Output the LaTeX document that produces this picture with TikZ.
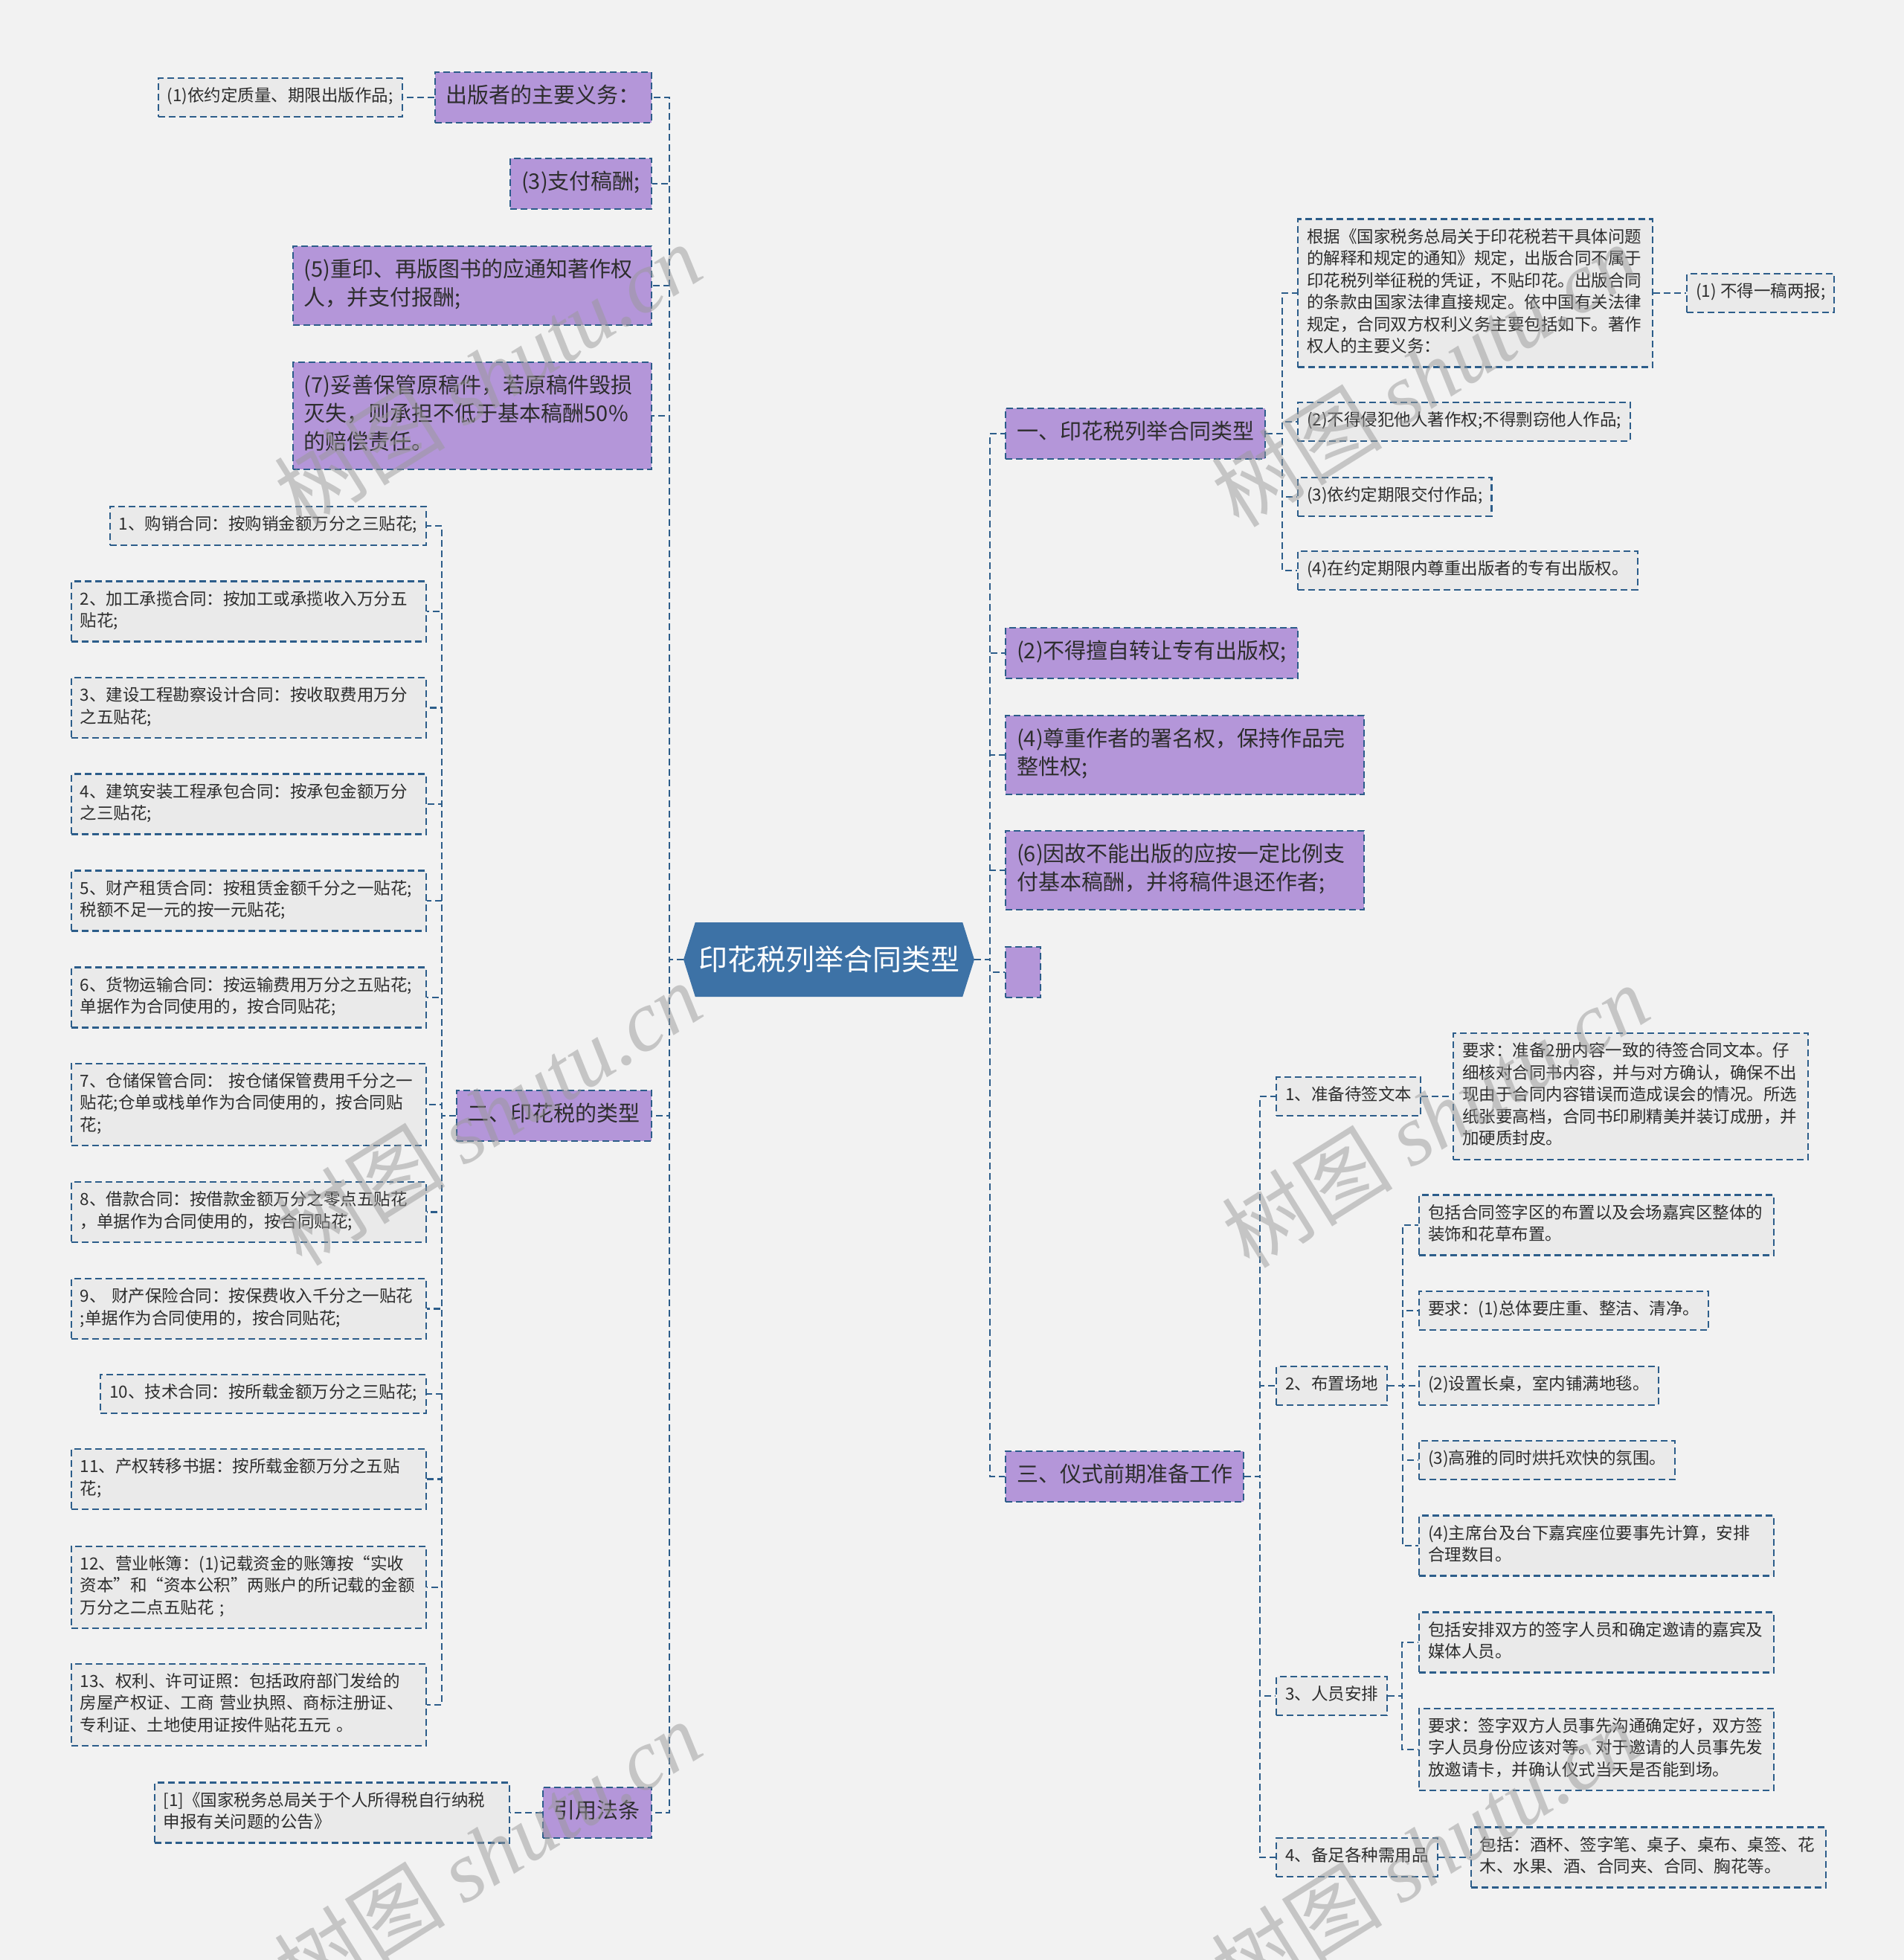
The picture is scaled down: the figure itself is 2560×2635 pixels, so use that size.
\documentclass[tikz,border=0pt]{standalone}
\usepackage{fontspec}
\setmainfont{Noto Sans CJK SC}
\newfontfamily\wmserif{Liberation Serif}
\definecolor{linkblue}{RGB}{44, 93, 138}
\definecolor{hubblue}{RGB}{61, 114, 166}
\definecolor{branchpurple}{RGB}{180, 150, 217}
\definecolor{leafgray}{RGB}{234, 234, 234}
\definecolor{paper}{RGB}{242, 242, 242}
\definecolor{ink}{RGB}{45, 45, 45}
\definecolor{wmgray}{RGB}{153, 153, 153}
\usetikzlibrary{positioning, shapes.symbols}
\newcommand{\hubfont}{\fontsize{39}{47}\selectfont}
\newcommand{\branchfont}{\fontsize{29}{38}\selectfont}
\newcommand{\leaffont}{\fontsize{22.5}{29.5}\selectfont}
\tikzset{
	hub/.style={signal, signal to=west and east, signal pointer angle=145, fill=hubblue, text=white, minimum width=391pt, minimum height=100pt, inner sep=0pt, font=\hubfont},
	branch/.style={rectangle, draw=linkblue, fill=branchpurple, dash pattern=on 9pt off 5pt, line width=2.2pt, inner xsep=15pt, inner ysep=15pt, align=left, text=ink, font=\branchfont, execute at begin node=\strut, execute at end node=\strut},
	widebranch/.style={branch, text width=452pt},
	leaf/.style={rectangle, draw=linkblue, fill=leafgray, dash pattern=on 9pt off 5pt, line width=2.2pt, inner xsep=12pt, inner ysep=11pt, align=left, text=ink, font=\leaffont, execute at begin node=\strut, execute at end node=\strut},
	wideleaf/.style={leaf, text width=453pt},
	link/.style={draw=linkblue, dash pattern=on 9pt off 5pt, line width=2.2pt},
	watermark/.style={rotate=32, text=wmgray, text opacity=0.5, font=\fontsize{115}{115}\selectfont},
}
\begin{document}
\begin{tikzpicture}[x=1pt, y=-1pt]
	\useasboundingbox (0,0) rectangle (2560,2635);
	\fill[paper] (0,0) rectangle (2560,2635);
	% centre
	\node[hub] (hub) at (1114.5,1290) {印花税列举合同类型};
	\coordinate (lefttrunk) at (900,1290);
	\coordinate (righttrunk) at (1331,1290);
	% left side
	\node[branch, anchor=east] (duty) at (877,131) {出版者的主要义务：};
	\node[leaf, left=42pt of duty] (duty1) {(1)依约定质量、期限出版作品;};
	\node[branch, anchor=east] (pay) at (877,247) {(3)支付稿酬;};
	\node[widebranch, anchor=east] (reprint) at (877,384) {(5)重印、再版图书的应通知著作权\\人，并支付报酬;};
	\node[widebranch, anchor=east] (keep) at (877,559) {(7)妥善保管原稿件，若原稿件毁损\\灭失，则承担不低于基本稿酬50\%\\的赔偿责任。};
	\node[branch, anchor=east] (types) at (877,1500) {二、印花税的类型};
	\coordinate (typestrunk) at (594,1500);
	\node[branch, anchor=east] (law) at (877,2437) {引用法条};
	\node[wideleaf, left=43pt of law] (lawref) {[1]《国家税务总局关于个人所得税自行纳税\\申报有关问题的公告》};
	% tax types
	\node[leaf, anchor=east] (tsale) at (574,707) {1、购销合同：按购销金额万分之三贴花;};
	\node[wideleaf, anchor=east] (tprocess) at (574,822) {2、加工承揽合同：按加工或承揽收入万分五\\贴花;};
	\node[wideleaf, anchor=east] (tsurvey) at (574,951.5) {3、建设工程勘察设计合同：按收取费用万分\\之五贴花;};
	\node[wideleaf, anchor=east] (tbuild) at (574,1081) {4、建筑安装工程承包合同：按承包金额万分\\之三贴花;};
	\node[wideleaf, anchor=east] (tlease) at (574,1211) {5、财产租赁合同：按租赁金额千分之一贴花;\\税额不足一元的按一元贴花;};
	\node[wideleaf, anchor=east] (tfreight) at (574,1341) {6、货物运输合同：按运输费用万分之五贴花;\\单据作为合同使用的，按合同贴花;};
	\node[wideleaf, anchor=east] (tstore) at (574,1485) {7、仓储保管合同： 按仓储保管费用千分之一\\贴花;仓单或栈单作为合同使用的，按合同贴\\花;};
	\node[wideleaf, anchor=east] (tloan) at (574,1629.5) {8、借款合同：按借款金额万分之零点五贴花\\，单据作为合同使用的，按合同贴花;};
	\node[wideleaf, anchor=east] (tinsure) at (574,1759.5) {9、 财产保险合同：按保费收入千分之一贴花\\;单据作为合同使用的，按合同贴花;};
	\node[leaf, anchor=east] (ttech) at (574,1874) {10、技术合同：按所载金额万分之三贴花;};
	\node[wideleaf, anchor=east] (ttransfer) at (574,1988.5) {11、产权转移书据：按所载金额万分之五贴\\花;};
	\node[wideleaf, anchor=east] (tbooks) at (574,2134) {12、营业帐簿：(1)记载资金的账簿按“实收\\资本”和“资本公积”两账户的所记载的金额\\万分之二点五贴花 ;};
	\node[wideleaf, anchor=east] (tlicence) at (574,2292) {13、权利、许可证照：包括政府部门发给的\\房屋产权证、工商 营业执照、商标注册证、\\专利证、土地使用证按件贴花五元 。};
	% right side
	\node[branch, anchor=west] (listing) at (1351,583) {一、印花税列举合同类型};
	\coordinate (listtrunk) at (1724,583);
	\node[wideleaf, anchor=west] (basis) at (1744,394) {根据《国家税务总局关于印花税若干具体问题\\的解释和规定的通知》规定，出版合同不属于\\印花税列举征税的凭证，不贴印花。出版合同\\的条款由国家法律直接规定。依中国有关法律\\规定，合同双方权利义务主要包括如下。著作\\权人的主要义务：};
	\node[leaf, right=44pt of basis] (nodouble) {(1) 不得一稿两报;};
	\node[leaf, anchor=west] (infringe) at (1744,567) {(2)不得侵犯他人著作权;不得剽窃他人作品;};
	\node[leaf, anchor=west] (deliver) at (1744,668) {(3)依约定期限交付作品;};
	\node[leaf, anchor=west] (respect) at (1744,767) {(4)在约定期限内尊重出版者的专有出版权。};
	\node[branch, anchor=west] (notransfer) at (1351,878) {(2)不得擅自转让专有出版权;};
	\node[widebranch, anchor=west] (credit) at (1351,1015) {(4)尊重作者的署名权，保持作品完\\整性权;};
	\node[widebranch, anchor=west] (refund) at (1351,1170) {(6)因故不能出版的应按一定比例支\\付基本稿酬，并将稿件退还作者;};
	\node[branch, anchor=west, minimum width=47pt] (blank) at (1351,1307) {};
	\node[branch, anchor=west] (prep) at (1351,1985) {三、仪式前期准备工作};
	\coordinate (preptrunk) at (1694,1985);
	% ceremony preparation
	\node[leaf, anchor=west] (docs) at (1715,1474) {1、准备待签文本};
	\node[wideleaf, right=42pt of docs] (docsreq) {要求：准备2册内容一致的待签合同文本。仔\\细核对合同书内容，并与对方确认，确保不出\\现由于合同内容错误而造成误会的情况。所选\\纸张要高档，合同书印刷精美并装订成册，并\\加硬质封皮。};
	\node[leaf, anchor=west] (venue) at (1715,1863) {2、布置场地};
	\coordinate (venuetrunk) at (1886,1863);
	\node[wideleaf, anchor=west] (venue1) at (1907,1647) {包括合同签字区的布置以及会场嘉宾区整体的\\装饰和花草布置。};
	\node[leaf, anchor=west] (venue2) at (1907,1762) {要求：(1)总体要庄重、整洁、清净。};
	\node[leaf, anchor=west] (venue3) at (1907,1863) {(2)设置长桌，室内铺满地毯。};
	\node[leaf, anchor=west] (venue4) at (1907,1963) {(3)高雅的同时烘托欢快的氛围。};
	\node[wideleaf, anchor=west] (venue5) at (1907,2078) {(4)主席台及台下嘉宾座位要事先计算，安排\\合理数目。};
	\node[leaf, anchor=west] (staff) at (1715,2280) {3、人员安排};
	\coordinate (stafftrunk) at (1885,2280);
	\node[wideleaf, anchor=west] (staff1) at (1907,2208) {包括安排双方的签字人员和确定邀请的嘉宾及\\媒体人员。};
	\node[wideleaf, anchor=west] (staff2) at (1907,2352) {要求：签字双方人员事先沟通确定好，双方签\\字人员身份应该对等。对于邀请的人员事先发\\放邀请卡，并确认仪式当天是否能到场。};
	\node[leaf, anchor=west] (supplies) at (1715,2497) {4、备足各种需用品};
	\node[wideleaf, right=43pt of supplies] (supplies1) {包括：酒杯、签字笔、桌子、桌布、桌签、花\\木、水果、酒、合同夹、合同、胸花等。};
	% links, left
	\draw[link] (hub.west) -- (lefttrunk) |- (duty.east);
	\draw[link] (hub.west) -- (lefttrunk) |- (pay.east);
	\draw[link] (hub.west) -- (lefttrunk) |- (reprint.east);
	\draw[link] (hub.west) -- (lefttrunk) |- (keep.east);
	\draw[link] (hub.west) -- (lefttrunk) |- (types.east);
	\draw[link] (hub.west) -- (lefttrunk) |- (law.east);
	\draw[link] (duty.west) -- (duty1.east);
	\draw[link] (law.west) -- (lawref.east);
	\draw[link] (types.west) -- (typestrunk) |- (tsale.east);
	\draw[link] (types.west) -- (typestrunk) |- (tprocess.east);
	\draw[link] (types.west) -- (typestrunk) |- (tsurvey.east);
	\draw[link] (types.west) -- (typestrunk) |- (tbuild.east);
	\draw[link] (types.west) -- (typestrunk) |- (tlease.east);
	\draw[link] (types.west) -- (typestrunk) |- (tfreight.east);
	\draw[link] (types.west) -- (typestrunk) |- (tstore.east);
	\draw[link] (types.west) -- (typestrunk) |- (tloan.east);
	\draw[link] (types.west) -- (typestrunk) |- (tinsure.east);
	\draw[link] (types.west) -- (typestrunk) |- (ttech.east);
	\draw[link] (types.west) -- (typestrunk) |- (ttransfer.east);
	\draw[link] (types.west) -- (typestrunk) |- (tbooks.east);
	\draw[link] (types.west) -- (typestrunk) |- (tlicence.east);
	% links, right
	\draw[link] (hub.east) -- (righttrunk) |- (listing.west);
	\draw[link] (hub.east) -- (righttrunk) |- (notransfer.west);
	\draw[link] (hub.east) -- (righttrunk) |- (credit.west);
	\draw[link] (hub.east) -- (righttrunk) |- (refund.west);
	\draw[link] (hub.east) -- (righttrunk) |- (blank.west);
	\draw[link] (hub.east) -- (righttrunk) |- (prep.west);
	\draw[link] (listing.east) -- (listtrunk) |- (basis.west);
	\draw[link] (listing.east) -- (listtrunk) |- (infringe.west);
	\draw[link] (listing.east) -- (listtrunk) |- (deliver.west);
	\draw[link] (listing.east) -- (listtrunk) |- (respect.west);
	\draw[link] (basis.east) -- (nodouble.west);
	\draw[link] (prep.east) -- (preptrunk) |- (docs.west);
	\draw[link] (prep.east) -- (preptrunk) |- (venue.west);
	\draw[link] (prep.east) -- (preptrunk) |- (staff.west);
	\draw[link] (prep.east) -- (preptrunk) |- (supplies.west);
	\draw[link] (docs.east) -- (docsreq.west);
	\draw[link] (venue.east) -- (venuetrunk) |- (venue1.west);
	\draw[link] (venue.east) -- (venuetrunk) |- (venue2.west);
	\draw[link] (venue.east) -- (venuetrunk) |- (venue3.west);
	\draw[link] (venue.east) -- (venuetrunk) |- (venue4.west);
	\draw[link] (venue.east) -- (venuetrunk) |- (venue5.west);
	\draw[link] (staff.east) -- (stafftrunk) |- (staff1.west);
	\draw[link] (staff.east) -- (stafftrunk) |- (staff2.west);
	\draw[link] (supplies.east) -- (supplies1.west);
	% watermarks
	\node[watermark] at (656,504) {树图 {\wmserif\itshape shutu.cn}};
	\node[watermark] at (1916,504) {树图 {\wmserif\itshape shutu.cn}};
	\node[watermark] at (656,1497) {树图 {\wmserif\itshape shutu.cn}};
	\node[watermark] at (1930,1500) {树图 {\wmserif\itshape shutu.cn}};
	\node[watermark] at (656,2490) {树图 {\wmserif\itshape shutu.cn}};
	\node[watermark] at (1916,2490) {树图 {\wmserif\itshape shutu.cn}};
\end{tikzpicture}
\end{document}
